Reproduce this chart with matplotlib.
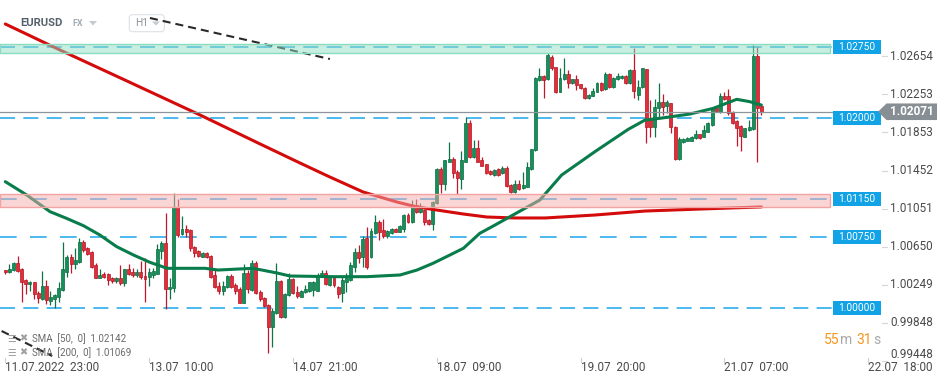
import matplotlib
matplotlib.use("Agg")
import matplotlib.pyplot as plt
import matplotlib.transforms as mtransforms
from matplotlib.patches import Rectangle, FancyBboxPatch, Polygon
import numpy as np

plt.rcParams['font.family'] = ['Roboto', 'DejaVu Sans']
plt.rcParams['lines.scale_dashes'] = False

# ------------------------------------------------------------------ data
symbol = "EURUSD"
market = "FX"
interval = "H1"

time_labels = ["11.07.2022  23:00", "13.07  10:00", "14.07  21:00", "18.07  09:00",
               "19.07  20:00", "21.07  07:00", "22.07  18:00"]
time_label_idx = [0, 35, 70, 105, 140, 175, 210]

opens = [
    1.00402, 1.00381, 1.00405, 1.00476, 1.00413, 1.00297, 1.00255, 1.00276, 1.00160, 1.00100,
    1.00237, 1.00082, 1.00103, 1.00124, 1.00195, 1.00387, 1.00542, 1.00472, 1.00493, 1.00697,
    1.00634, 1.00592, 1.00458, 1.00324, 1.00363, 1.00363, 1.00318, 1.00289, 1.00321, 1.00272,
    1.00413, 1.00384, 1.00356, 1.00384, 1.00342, 1.00332, 1.00353, 1.00366, 1.00608, 1.00686,
    1.00202, 1.00213, 1.01072, 1.00781, 1.00834, 1.00826, 1.00644, 1.00605, 1.00545, 1.00581,
    1.00553, 1.00353, 1.00237, 1.00187, 1.00223, 1.00342, 1.00247, 1.00205, 1.00061, 1.00374,
    1.00195, 1.00476, 1.00171, 1.00107, 1.00037, 0.99808, 0.99956, 1.00289, 0.99907, 1.00142,
    1.00307, 1.00177, 1.00124, 1.00171, 1.00184, 1.00195, 1.00187, 1.00335, 1.00377, 1.00247,
    1.00318, 1.00229, 1.00160, 1.00282, 1.00300, 1.00440, 1.00592, 1.00545, 1.00745, 1.00545,
    1.00792, 1.00914, 1.00826, 1.00763, 1.00798, 1.00837, 1.00808, 1.00837, 1.00984, 1.00914,
    1.01089, 1.01013, 1.01037, 1.00932, 1.00886, 1.01107, 1.01465, 1.01307, 1.01545, 1.01571,
    1.01440, 1.01363, 1.01545, 1.01949, 1.01598, 1.01686, 1.01563, 1.01518, 1.01447, 1.01405,
    1.01465, 1.01423, 1.01482, 1.01300, 1.01229, 1.01311, 1.01265, 1.01282, 1.01468, 1.01668,
    1.02405, 1.02447, 1.02413, 1.02650, 1.02539, 1.02282, 1.02413, 1.02468, 1.02377, 1.02413,
    1.02360, 1.02324, 1.02213, 1.02237, 1.02282, 1.02371, 1.02307, 1.02468, 1.02335, 1.02413,
    1.02423, 1.02447, 1.02371, 1.02510, 1.02250, 1.02335, 1.02518, 1.02002, 1.01907, 1.02107,
    1.02174, 1.02132, 1.02160, 1.01907, 1.01571, 1.01756, 1.01766, 1.01766, 1.01792, 1.01834,
    1.01808, 1.01861, 1.01932, 1.02107, 1.02072, 1.02237, 1.02237, 1.02072, 1.01974, 1.01921,
    1.01808, 1.01879, 1.01886, 1.02658, 1.02132,
]
highs = [
    1.00408, 1.00465, 1.00489, 1.00553, 1.00426, 1.00311, 1.00289, 1.00284, 1.00184, 1.00392,
    1.00297, 1.00184, 1.00153, 1.00276, 1.00697, 1.00563, 1.00577, 1.00634, 1.00739, 1.00724,
    1.00651, 1.00605, 1.00476, 1.00416, 1.00381, 1.00374, 1.00335, 1.00335, 1.00458, 1.00416,
    1.00465, 1.00423, 1.00413, 1.00500, 1.00528, 1.00423, 1.00423, 1.00676, 1.00711, 1.01002,
    1.00318, 1.01213, 1.01153, 1.00974, 1.00879, 1.00837, 1.00658, 1.00619, 1.00592, 1.00598,
    1.00563, 1.00405, 1.00282, 1.00289, 1.00353, 1.00360, 1.00272, 1.00223, 1.00468, 1.00405,
    1.00511, 1.00500, 1.00195, 1.00124, 1.00047, 1.00002, 1.00476, 1.00300, 1.00160, 1.00371,
    1.00318, 1.00237, 1.00195, 1.00247, 1.00282, 1.00289, 1.00374, 1.00405, 1.00400, 1.00347,
    1.00335, 1.00242, 1.00335, 1.00371, 1.00486, 1.00634, 1.00668, 1.00766, 1.00855, 1.00844,
    1.00984, 1.00932, 1.00942, 1.00826, 1.00847, 1.00847, 1.00879, 1.00995, 1.01008, 1.01142,
    1.01149, 1.01107, 1.01047, 1.00942, 1.01132, 1.01476, 1.01493, 1.01568, 1.01749, 1.01592,
    1.01453, 1.01658, 1.02013, 1.01984, 1.01774, 1.01774, 1.01598, 1.01526, 1.01458, 1.01468,
    1.01474, 1.01500, 1.01495, 1.01311, 1.01353, 1.01353, 1.01434, 1.01545, 1.01684, 1.02437,
    1.02528, 1.02458, 1.02686, 1.02668, 1.02547, 1.02528, 1.02634, 1.02510, 1.02421, 1.02458,
    1.02368, 1.02332, 1.02258, 1.02318, 1.02387, 1.02379, 1.02489, 1.02479, 1.02432, 1.02476,
    1.02458, 1.02453, 1.02521, 1.02739, 1.02405, 1.02532, 1.02526, 1.02195, 1.02202, 1.02377,
    1.02258, 1.02195, 1.02168, 1.01916, 1.01808, 1.01795, 1.01805, 1.01816, 1.01879, 1.01842,
    1.01932, 1.01958, 1.02116, 1.02116, 1.02265, 1.02282, 1.02307, 1.02079, 1.01984, 1.01932,
    1.01905, 1.01984, 1.02774, 1.02749, 1.02142,
]
lows = [
    1.00366, 1.00374, 1.00395, 1.00387, 1.00072, 1.00156, 1.00187, 1.00100, 1.00061, 1.00089,
    1.00044, 1.00037, 1.00008, 1.00072, 1.00184, 1.00335, 1.00371, 1.00416, 1.00482, 1.00595,
    1.00563, 1.00423, 1.00316, 1.00321, 1.00318, 1.00247, 1.00265, 1.00265, 1.00247, 1.00237,
    1.00353, 1.00335, 1.00328, 1.00307, 1.00072, 1.00240, 1.00318, 1.00363, 1.00518, 0.99992,
    1.00097, 1.00177, 1.00756, 1.00774, 1.00756, 1.00608, 1.00545, 1.00542, 1.00539, 1.00528,
    1.00318, 1.00213, 1.00153, 1.00142, 1.00216, 1.00219, 1.00153, 1.00053, 1.00053, 1.00160,
    1.00184, 1.00149, 1.00079, 1.00013, 0.99535, 0.99598, 0.99942, 0.99900, 0.99897, 1.00135,
    1.00149, 1.00114, 1.00118, 1.00160, 1.00177, 1.00132, 1.00184, 1.00332, 1.00247, 1.00237,
    1.00229, 1.00107, 1.00072, 1.00177, 1.00289, 1.00387, 1.00476, 1.00440, 1.00419, 1.00528,
    1.00784, 1.00721, 1.00739, 1.00739, 1.00789, 1.00800, 1.00800, 1.00808, 1.00905, 1.00905,
    1.01005, 1.01005, 1.00879, 1.00879, 1.00826, 1.01100, 1.01213, 1.01247, 1.01537, 1.01371,
    1.01202, 1.01255, 1.01537, 1.01589, 1.01589, 1.01537, 1.01495, 1.01416, 1.01405, 1.01395,
    1.01395, 1.01416, 1.01279, 1.01213, 1.01221, 1.01247, 1.01258, 1.01274, 1.01458, 1.01658,
    1.02395, 1.02213, 1.02405, 1.02510, 1.02265, 1.02274, 1.02405, 1.02318, 1.02368, 1.02300,
    1.02311, 1.02205, 1.02205, 1.02232, 1.02274, 1.02289, 1.02300, 1.02326, 1.02326, 1.02405,
    1.02416, 1.02363, 1.02363, 1.02213, 1.02195, 1.02318, 1.01739, 1.01808, 1.01808, 1.02002,
    1.02037, 1.02055, 1.01844, 1.01563, 1.01563, 1.01747, 1.01758, 1.01758, 1.01784, 1.01789,
    1.01800, 1.01853, 1.01921, 1.02074, 1.02063, 1.02195, 1.02037, 1.01947, 1.01711, 1.01661,
    1.01800, 1.01872, 1.01879, 1.01545, 1.02037,
]
closes = [
    1.00381, 1.00416, 1.00476, 1.00398, 1.00282, 1.00255, 1.00276, 1.00149, 1.00107, 1.00237,
    1.00086, 1.00121, 1.00142, 1.00213, 1.00413, 1.00542, 1.00472, 1.00507, 1.00697, 1.00616,
    1.00577, 1.00440, 1.00324, 1.00353, 1.00335, 1.00303, 1.00289, 1.00318, 1.00272, 1.00413,
    1.00363, 1.00356, 1.00384, 1.00328, 1.00314, 1.00384, 1.00392, 1.00626, 1.00686, 1.00202,
    1.00226, 1.01072, 1.00774, 1.00834, 1.00808, 1.00634, 1.00587, 1.00556, 1.00581, 1.00539,
    1.00335, 1.00223, 1.00187, 1.00237, 1.00342, 1.00229, 1.00187, 1.00061, 1.00374, 1.00202,
    1.00476, 1.00160, 1.00097, 1.00026, 0.99808, 0.99974, 1.00289, 0.99907, 1.00153, 1.00307,
    1.00160, 1.00135, 1.00184, 1.00205, 1.00276, 1.00279, 1.00353, 1.00377, 1.00255, 1.00335,
    1.00247, 1.00153, 1.00300, 1.00318, 1.00458, 1.00592, 1.00535, 1.00732, 1.00440, 1.00816,
    1.00914, 1.00808, 1.00763, 1.00816, 1.00837, 1.00808, 1.00872, 1.00984, 1.00914, 1.01089,
    1.01013, 1.01055, 1.00914, 1.00886, 1.01124, 1.01465, 1.01307, 1.01563, 1.01571, 1.01423,
    1.01371, 1.01563, 1.01949, 1.01598, 1.01686, 1.01545, 1.01503, 1.01423, 1.01416, 1.01458,
    1.01405, 1.01482, 1.01289, 1.01223, 1.01311, 1.01258, 1.01300, 1.01493, 1.01676, 1.02429,
    1.02447, 1.02405, 1.02668, 1.02528, 1.02282, 1.02423, 1.02468, 1.02377, 1.02413, 1.02353,
    1.02318, 1.02213, 1.02247, 1.02289, 1.02371, 1.02300, 1.02468, 1.02335, 1.02423, 1.02447,
    1.02447, 1.02371, 1.02510, 1.02293, 1.02335, 1.02528, 1.01907, 1.01907, 1.02118, 1.02174,
    1.02118, 1.02174, 1.01907, 1.01571, 1.01781, 1.01784, 1.01798, 1.01808, 1.01834, 1.01798,
    1.01879, 1.01949, 1.02107, 1.02082, 1.02237, 1.02202, 1.02055, 1.01956, 1.01903, 1.01816,
    1.01897, 1.01907, 1.02658, 1.02114, 1.02071,
]

# moving averages (read at knots along the curves)
sma50_idx = [0, 5.2, 10.9, 14.9, 19.0, 23.0, 27.1, 31.2, 35.2, 39.4, 48.6, 51.8, 60.3, 66.1,
             69.3, 79.8, 88.0, 96.1, 100.2, 104.1, 108.2, 111.5, 115.5, 119.2, 130.1, 135.4,
             143.5, 151.6, 155.7, 159.3, 166.6, 172.3, 178.0, 181.2, 184]
sma50_val = [1.01335, 1.01195, 1.01019, 1.00949, 1.00872, 1.00774, 1.00651, 1.00563, 1.00486,
             1.00423, 1.00423, 1.00405, 1.00423, 1.00374, 1.00342, 1.00335, 1.00335, 1.00353,
             1.00405, 1.00476, 1.00563, 1.00634, 1.00792, 1.00879, 1.01142, 1.01405, 1.01651,
             1.01886, 1.01984, 1.02002, 1.02047, 1.02107, 1.02202, 1.02177, 1.02142]
sma200_idx = [0, 13.3, 29.1, 47.4, 62.0, 71.7, 79.0, 87.1, 95.3, 99.2, 103.4, 111.4, 117.2,
              124.1, 131.4, 143.5, 155.7, 169.1, 184]
sma200_val = [1.02995, 1.02721, 1.02405, 1.02037, 1.01732, 1.01532, 1.01384, 1.01226, 1.01121,
              1.01079, 1.01047, 1.00995, 1.00963, 1.00953, 1.00953, 1.00984, 1.01026, 1.01047,
              1.01069]
sma50_label = "SMA  [50,  0]  1.02142"
sma200_label = "SMA  [200,  0]  1.01069"

levels = [1.02750, 1.02000, 1.01150, 1.00750, 1.00000]
zones_low = [1.02686, 1.01072]
zones_high = [1.02784, 1.01205]
price_ticks = [1.02654, 1.02253, 1.01853, 1.01452, 1.01051, 1.00650, 1.00249, 0.99848, 0.99448]
last_price = 1.02071

trend_top_idx = [35.2, 79.0]
trend_top_val = [1.03058, 1.02626]
trend_bot_idx = [-0.9, 11.4]
trend_bot_val = [0.99763, 0.99500]

countdown = [("55", "num"), ("m", "unit"), ("31", "num"), ("s", "unit")]

# ------------------------------------------------------------------ layout
W, H = 949, 385
X0, DX = 5.3, 4.109      # pixel of first candle, pixels per candle
Y1, K = 308.5, 9500.0    # pixel row of price 1.0, pixels per price unit


def xd(px):
    return (px - X0) / DX


def yd(py):
    return 1.0 + (Y1 - py) / K


fig = plt.figure(figsize=(W / 100, H / 100), dpi=100, facecolor='white')
ax = fig.add_axes([0, 0, 1, 1])
ax.set_axis_off()
ax.set_xlim(xd(0), xd(W))
ax.set_ylim(yd(H), yd(0))

PX = mtransforms.Affine2D().scale(1, -1).translate(0, H)          # pixel coords, top-left origin
BX = mtransforms.blended_transform_factory(PX, ax.transData)      # x pixel, y price
BY = mtransforms.blended_transform_factory(ax.transData, PX)      # x candle, y pixel

# horizontal levels
level_dashes = [(10.8, 6.0), (10.8, 6.0), (12.0, 9.6), (12.0, 9.6), (10.8, 6.0)]
for lv, ds in zip(levels, level_dashes):
    ax.plot([0, 833], [lv, lv], transform=BX, color='#3db3ee', lw=1.3,
            dashes=ds, zorder=1)

# candles
o = np.array(opens); h = np.array(highs); l = np.array(lows); c = np.array(closes)
idx = np.arange(len(o))
up = c >= o
wick_col = np.where(up, '#0d7447', '#c0172a')
face_col = np.where(up, '#14905a', '#e22d3b')
edge_col = np.where(up, '#0b6a40', '#b3141f')
top = np.maximum.reduce([h, o, c])
bot = np.minimum.reduce([l, o, c])
ax.vlines(idx, bot, top, colors=wick_col, lw=0.9, zorder=2)
ax.bar(idx, np.maximum(np.abs(c - o), 0.00005), bottom=np.minimum(o, c), width=0.72,
       color=face_col, edgecolor=edge_col, linewidth=0.5, zorder=3)

# moving averages
ax.plot(sma200_idx, sma200_val, color='#d40b0b', lw=2.2, zorder=4,
        solid_capstyle='round', solid_joinstyle='round')
ax.plot(sma50_idx, sma50_val, color='#087c4b', lw=2.2, zorder=4,
        solid_capstyle='round', solid_joinstyle='round')

# trend lines
ax.plot(trend_top_idx, trend_top_val, color='#2a2a2a', lw=1.5, dashes=(5.8, 3.6), zorder=5)
ax.plot(trend_bot_idx, trend_bot_val, color='#2a2a2a', lw=1.5, dashes=(5.8, 3.6), zorder=5)

# zones (drawn over everything, translucent)
zone_face = [(0.57, 0.87, 0.76, 0.5), (0.96, 0.68, 0.68, 0.5)]
zone_edge = ['#8adcbe', '#f4a3a3']
for lo, hi, fcol, ecol in zip(zones_low, zones_high, zone_face, zone_edge):
    ax.add_patch(Rectangle((0, lo), 830, hi - lo, transform=BX, facecolor=fcol,
                           edgecolor=ecol, lw=1.0, zorder=6))

# current price line
ax.plot([0, 878], [last_price, last_price], transform=BX, color='#8d959a', lw=0.9, zorder=7)

# level label boxes
for lv in levels:
    ax.add_patch(Rectangle((833, lv - 7 / K), 48, 14 / K, transform=BX,
                           facecolor='#12a2e6', edgecolor='none', zorder=8))
    ax.text(857, lv, f"{lv:.5f}", transform=BX, ha='center', va='center',
            color='white', fontsize=7.3, zorder=9)

# price axis labels
for v in price_ticks:
    py = Y1 - (v - 1.0) * K
    ax.plot([882, 887], [v, v], transform=BX, color='#d6d6d6', lw=0.8, zorder=8)
    if py > 356:
        ax.text(890, v, f"{v:.5f}", transform=BX, ha='left', va='bottom',
                color='#4a4a4a', fontsize=8.5, zorder=9)
    else:
        ax.text(890, v, f"{v:.5f}", transform=BX, ha='left', va='center',
                color='#4a4a4a', fontsize=8.5, zorder=9)

# current price tag
tag_h = 8.3 / K
ax.add_patch(Polygon([(878, last_price), (886.5, last_price + tag_h), (937, last_price + tag_h),
                      (937, last_price - tag_h), (886.5, last_price - tag_h)],
                     closed=True, transform=BX, facecolor='#878f94', edgecolor='none', zorder=9))
ax.text(911.5, last_price, f"{last_price:.5f}", transform=BX, ha='center', va='center',
        color='white', fontsize=8.5, fontweight='bold', zorder=10)

# time axis labels
for i, lab in zip(time_label_idx, time_labels):
    ax.plot([i, i], [358, 362], transform=BY, color='#d0d0d0', lw=0.8, zorder=8)
    ax.text(i, 367.5, lab, transform=BY, ha='left', va='center', color='#4a4a4a',
            fontsize=8.5, zorder=9)

# countdown
cd_x = [824, 840, 856.5, 873]
for (txt, kind), x in zip(countdown, cd_x):
    ax.text(x, 340, txt, transform=PX, ha='left', va='center', fontsize=10,
            color='#f7941d' if kind == 'num' else '#a9a9a9', zorder=9)

# indicator legend
for yy, lab in zip([338.5, 352.5], [sma50_label, sma200_label]):
    ax.text(7, yy, "\u2630", transform=PX, ha='left', va='center', fontsize=7,
            color='#a0a0a0', family=['DejaVu Sans'], zorder=9)
    ax.text(19, yy, "\u2716", transform=PX, ha='left', va='center', fontsize=7,
            color='#a0a0a0', family=['DejaVu Sans'], zorder=9)
    ax.text(31.5, yy, lab, transform=PX, ha='left', va='center', fontsize=7,
            color='#6a6a6a', zorder=9)

# header
ax.text(20.7, 23.3, symbol, transform=PX, ha='left', va='center', fontsize=8.1,
        fontweight='bold', color='#56616b', zorder=9)
ax.text(72.7, 24, market, transform=PX, ha='left', va='center', fontsize=6.5,
        fontweight='bold', color='#a3adb6', zorder=9)
ax.add_patch(Polygon([(89, 21), (97, 21), (93, 25.5)], closed=True, transform=PX,
                     facecolor='#c4cad0', edgecolor='none', zorder=9))
ax.add_patch(FancyBboxPatch((129.3, 14.7), 35, 17, boxstyle='round,pad=0,rounding_size=3',
                            transform=PX, facecolor='white', edgecolor='#dde1e5', lw=0.8,
                            zorder=4.6))
ax.text(135, 23.5, interval, transform=PX, ha='left', va='center', fontsize=7.3,
        color='#8a939b', zorder=4.7)
ax.add_patch(Polygon([(152, 21.5), (160, 21.5), (156, 25.5)], closed=True, transform=PX,
                     facecolor='#c4cad0', edgecolor='none', zorder=4.7))

fig.savefig("out.png", dpi=100, facecolor='white')
